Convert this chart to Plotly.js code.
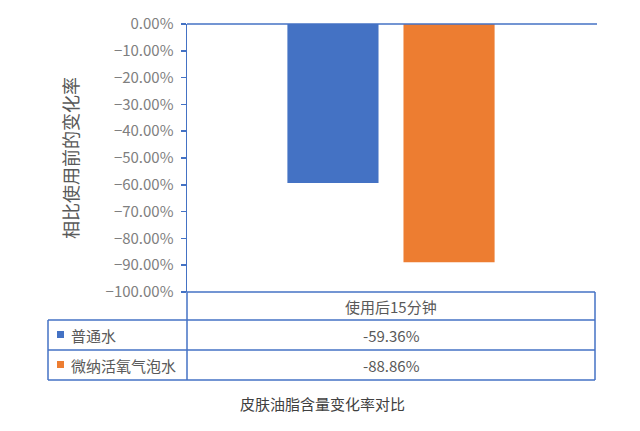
<!DOCTYPE html>
<html>
<head>
<meta charset="utf-8">
<script src="https://cdn.plot.ly/plotly-3.0.1.min.js"></script>
<style>
  html, body { margin: 0; padding: 0; background: #fff; }
  #chart { width: 640px; height: 431px; }
</style>
</head>
<body>
<div id="chart"></div>
<script>
const categories = ["使用后15分钟"];
const seriesNames = ["普通水", "微纳活氧气泡水"];
const plainWater = [-59.36];
const bubbleWater = [-88.86];
const seriesColors = ["#4472C4", "#ED7D31"];

const W = 640, H = 431;
const L = 187, R = 595, T = 24, B = 292;
const px = x => (x - L) / (R - L);
const py = y => (B - y) / (B - T);
const lineColor = "#4472C4";
const font = "Noto Sans CJK SC, sans-serif";

const seriesValues = [plainWater, bubbleWater];
const traces = seriesValues.map((vals, i) => ({
  type: "bar",
  name: seriesNames[i],
  x: categories,
  y: vals.map(v => v / 100),
  marker: { color: seriesColors[i] },
  hoverinfo: "none"
}));

function hline(y, x0, x1) {
  return { type: "line", xref: "paper", yref: "paper", x0: px(x0), x1: px(x1), y0: py(y), y1: py(y),
           line: { color: lineColor, width: 1.5 } };
}
function vline(x, y0, y1) {
  return { type: "line", xref: "paper", yref: "paper", x0: px(x), x1: px(x), y0: py(y0), y1: py(y1),
           line: { color: lineColor, width: 1.5 } };
}

const rowY = [335, 365];
const shapes = [
  hline(24, 187, 597),
  hline(292, 187, 595),
  hline(320, 48, 595),
  hline(350, 48, 595),
  hline(380, 48, 595),
  vline(48, 320, 380),
  vline(187, 292, 380),
  vline(595, 292, 380)
];
seriesNames.forEach((n, i) => {
  shapes.push({ type: "rect", xref: "paper", yref: "paper",
    x0: px(57), x1: px(64), y0: py(rowY[i] - 4), y1: py(rowY[i] + 3),
    fillcolor: seriesColors[i], line: { width: 0 } });
});

function label(x, y, text, opts) {
  return Object.assign({ xref: "paper", yref: "paper", x: px(x), y: py(y), text: text,
    xanchor: "center", yanchor: "middle", showarrow: false,
    font: { family: font, size: 15, color: "#595959" } }, opts || {});
}

const annotations = [];
categories.forEach(c => annotations.push(label(391, 306, c)));
seriesNames.forEach((n, i) => {
  annotations.push(label(69, rowY[i], n, { xanchor: "left" }));
  annotations.push(label(391, rowY[i], seriesValues[i][0].toFixed(2) + "%"));
});
annotations.push(label(322, 404, "皮肤油脂含量变化率对比",
  { font: { family: font, size: 15, color: "#404040" } }));

const layout = {
  width: W, height: H,
  margin: { l: L, r: W - R, t: T, b: H - B, pad: 0 },
  paper_bgcolor: "#fff", plot_bgcolor: "#fff",
  showlegend: false,
  barmode: "group",
  bargap: 0.431,
  bargroupgap: 0.215,
  font: { family: font, color: "#7f7f7f" },
  xaxis: { showticklabels: false, showgrid: false, zeroline: false, showline: false, ticks: "", fixedrange: true },
  yaxis: {
    range: [-1, 0], dtick: 0.1, tickformat: ".2%",
    showgrid: false, zeroline: false,
    showline: true, linecolor: lineColor, linewidth: 1.5,
    ticks: "outside", ticklen: 5, tickcolor: lineColor, tickwidth: 1.5,
    ticklabelstandoff: 4,
    tickfont: { family: font, size: 15, color: "#7f7f7f" },
    title: { text: "相比使用前的变化率", standoff: 22, font: { family: font, size: 18, color: "#595959" } }
  },
  shapes: shapes,
  annotations: annotations
};

Plotly.newPlot("chart", traces, layout, { staticPlot: true, displayModeBar: false });
</script>
</body>
</html>
